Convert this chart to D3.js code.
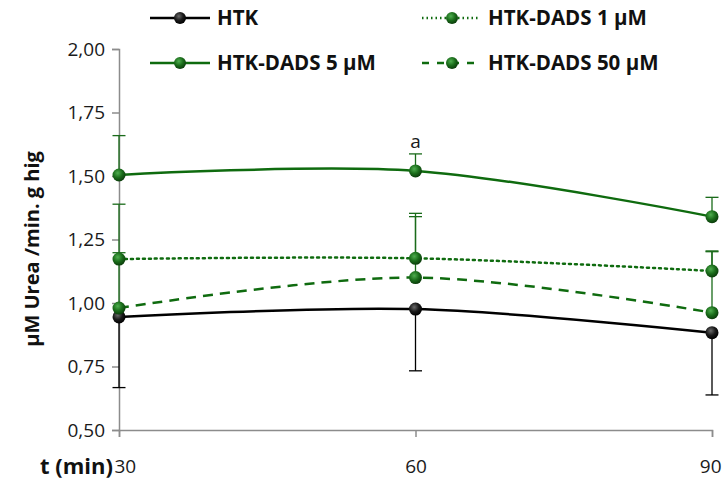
<!DOCTYPE html>
<html><head><meta charset="utf-8">
<script src="https://cdn.jsdelivr.net/npm/d3@7"></script>
<style>body{margin:0;background:#fff}svg{display:block}text{font-family:"Open Sans",sans-serif}</style>
</head><body>
<script>
const times = [30, 60, 90];
const seriesNames = ["HTK", "HTK-DADS 1 µM", "HTK-DADS 5 µM", "HTK-DADS 50 µM"];
const htk = [0.945, 0.976, 0.883];
const dads1 = [1.173, 1.176, 1.126];
const dads5 = [1.504, 1.520, 1.340];
const dads50 = [0.980, 1.100, 0.962];
const errHtk = [0.278, 0.243, 0.245];     // shown minus
const errDads1 = [0.216, 0.177, 0.079];   // shown plus
const errDads5 = [0.155, 0.067, 0.076];   // shown plus
const errDads50 = [0.218, 0.240, 0.240];  // shown plus
const yTicks = [0.5, 0.75, 1.0, 1.25, 1.5, 1.75, 2.0];
const annotation = {time: 60, value: 1.520, text: "a"};

const W = 724, H = 483;
const svg = d3.select("body").append("svg").attr("width", W).attr("height", H);
const defs = svg.append("defs");
function grad(id, c0, c1, c2){
  const g = defs.append("radialGradient").attr("id", id).attr("cx","40%").attr("cy","35%").attr("r","65%");
  g.append("stop").attr("offset","0%").attr("stop-color",c0);
  g.append("stop").attr("offset","55%").attr("stop-color",c1);
  g.append("stop").attr("offset","100%").attr("stop-color",c2);
}
grad("gBlack", "#6a6a6a", "#1a1a1a", "#000");
grad("gGreen", "#4fae4f", "#1b6d1b", "#0b3d0b");

const x = d3.scaleLinear().domain([30, 90]).range([119, 712]);
const y = d3.scaleLinear().domain([0.5, 2.0]).range([430, 49]);
const axisColor = "#8c8c8c";
const fmt = d => d3.format(".2f")(d).replace(".", ",");

// y axis
const ya = svg.append("g").attr("transform", "translate(119,0)")
  .call(d3.axisLeft(y).tickValues(yTicks).tickFormat(fmt).tickSize(7).tickPadding(7));
ya.select(".domain").attr("stroke", axisColor).attr("stroke-width", 1.5);
ya.selectAll(".tick line").attr("stroke", axisColor).attr("stroke-width", 1.5);
ya.selectAll("text").attr("font-size", 19).attr("fill", "#1a1a1a").attr("font-family", "Open Sans");

// x axis
const xa = svg.append("g").attr("transform", "translate(0,430)")
  .call(d3.axisBottom(x).tickValues(times).tickSize(7).tickPadding(23));
xa.select(".domain").attr("stroke", axisColor).attr("stroke-width", 1.5);
xa.selectAll(".tick line").attr("stroke", axisColor).attr("stroke-width", 1.5);
xa.selectAll("text").attr("font-size", 19).attr("fill", "#1a1a1a").attr("font-family", "Open Sans");
xa.selectAll(".tick text").filter(d => d === 30).attr("text-anchor", "start").attr("dx", -5);
xa.selectAll(".tick text").filter(d => d === 90).attr("text-anchor", "end").attr("dx", 9);

svg.append("text").attr("x", 113).attr("y", 474).attr("text-anchor", "end")
  .attr("font-size", 22).attr("font-weight", "bold").attr("fill", "#111").text("t (min)");
svg.append("text").attr("transform", "translate(39,249) rotate(-90)").attr("text-anchor", "middle")
  .attr("font-size", 20).attr("font-weight", "bold").attr("fill", "#111").text("µM Urea /min. g hig");

const series = [
  {name: seriesNames[0], vals: htk, err: errHtk, dir: -1, color: "#000", dash: null, fill: "url(#gBlack)"},
  {name: seriesNames[1], vals: dads1, err: errDads1, dir: 1, color: "#0f6b0f", dash: "2,4", cap: "round", fill: "url(#gGreen)"},
  {name: seriesNames[2], vals: dads5, err: errDads5, dir: 1, color: "#0f6b0f", dash: null, fill: "url(#gGreen)"},
  {name: seriesNames[3], vals: dads50, err: errDads50, dir: 1, color: "#0f6b0f", dash: "10,7", fill: "url(#gGreen)"}
];

const line = d3.line().x((d, i) => x(times[i])).y(d => y(d)).curve(d3.curveCardinal.tension(0));

series.forEach(s => {
  const g = svg.append("g");
  g.append("path").datum(s.vals).attr("d", line).attr("fill", "none")
    .attr("stroke", s.color).attr("stroke-width", 2.5)
    .attr("stroke-dasharray", s.dash).attr("stroke-linecap", s.cap || "butt");
  s.vals.forEach((v, i) => {
    const xx = x(times[i]), y0 = y(v), y1 = y(v + s.dir * s.err[i]);
    const ec = s.color === "#000" ? "#000" : "#1a6b1a";
    g.append("line").attr("x1", xx).attr("x2", xx).attr("y1", y0).attr("y2", y1).attr("stroke", ec).attr("stroke-width", 1.3);
    g.append("line").attr("x1", xx - 6.5).attr("x2", xx + 6.5).attr("y1", y1).attr("y2", y1).attr("stroke", ec).attr("stroke-width", 1.3);
  });
});
series.forEach(s => {
  svg.append("g").selectAll("circle").data(s.vals).join("circle")
    .attr("cx", (d, i) => x(times[i])).attr("cy", d => y(d)).attr("r", 6.5).attr("fill", s.fill);
});

svg.append("text").attr("x", x(annotation.time)).attr("y", y(annotation.value) - 23).attr("text-anchor", "middle")
  .attr("font-size", 19).attr("fill", "#1a1a1a").text(annotation.text);

// legend
const legendPos = [
  {lx: 150, rx: 210, mx: 180, ty: 18, tx: 217},
  {lx: 422, rx: 480, mx: 452, ty: 18, tx: 488},
  {lx: 150, rx: 210, mx: 180, ty: 63, tx: 217},
  {lx: 422, rx: 480, mx: 452, ty: 63, tx: 488}
];
const legendDash = [null, "1.5,3", null, "7,8"];
series.forEach((s, i) => {
  const p = legendPos[i];
  svg.append("line").attr("x1", p.lx).attr("x2", p.rx).attr("y1", p.ty).attr("y2", p.ty)
    .attr("stroke", s.color).attr("stroke-width", 2.5).attr("stroke-dasharray", legendDash[i]);
  svg.append("circle").attr("cx", p.mx).attr("cy", p.ty).attr("r", 6).attr("fill", s.fill);
  svg.append("text").attr("x", p.tx).attr("y", p.ty).attr("dy", "0.36em")
    .attr("font-size", 20.5).attr("font-weight", "bold").attr("fill", "#111").text(s.name);
});
</script>
</body></html>
